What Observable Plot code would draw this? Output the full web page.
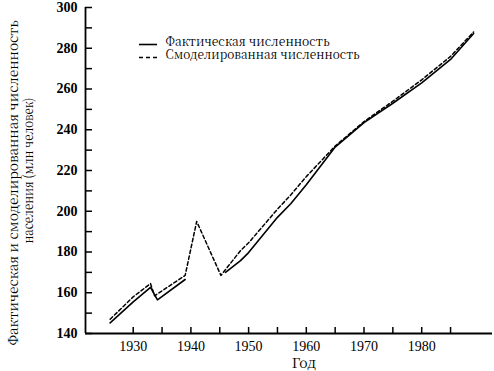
<!DOCTYPE html>
<html><head><meta charset="utf-8">
<script src="https://cdn.jsdelivr.net/npm/d3@7"></script>
<script src="https://cdn.jsdelivr.net/npm/@observablehq/plot@0.6"></script>
<style>
body{margin:0;background:#fff;}
#wrap{position:relative;width:494px;height:371px;color:#000;}
#legend{position:absolute;left:0;top:0;}
#wrap g[aria-label="y-axis tick label"], #wrap g[aria-label="y-axis tick label"] text{font-weight:bold;}
</style></head><body><div id="wrap"></div>
<script>
// Actual (solid) population, USSR, millions; NaN = gap in the record
const actualYears  = [1926, 1930, 1933, 1934.2, 1939, 1942, 1946, 1948.6, 1950, 1955, 1957.3, 1960, 1965, 1970, 1975, 1980, 1985, 1989];
const actualValues = [145.2, 155.5, 162.6, 156.5, 166.5, NaN, 170, 175.8, 179.7, 197, 203.7, 213, 231.5, 243.5, 253, 263, 274.5, 287.2];
// Modelled (dashed) population
const modelYears  = [1926, 1930, 1933, 1933.7, 1939, 1941, 1945.2, 1948.6, 1950, 1955, 1957.3, 1960, 1965, 1970, 1975, 1980, 1985, 1989];
const modelValues = [147, 158, 164.5, 158.5, 168.5, 195, 168.5, 180.7, 184.5, 201, 208, 217, 232, 244, 254, 264.5, 276, 288];

const seriesNames = ["Фактическая численность", "Смоделированная численность"];
const xLabel = "Год";
const yLabelLines = ["Фактическая и смоделированная численность", "населения (млн человек)"];
const xTicksMajor = [1930, 1940, 1950, 1960, 1970, 1980];
const xTicksMinor = [1930, 1935, 1940, 1945, 1950, 1955, 1960, 1965, 1970, 1975, 1980, 1985];
const yTicksMajor = [140, 160, 180, 200, 220, 240, 260, 280, 300];
const yTicksMinor = d3.range(140, 301, 10);

const actual = actualYears.map((x, i) => ({x, y: actualValues[i]}));
const model = modelYears.map((x, i) => ({x, y: modelValues[i]}));

const xDomain = [1921.73, 1992.27];
const yDomain = [140, 300];
const DIGITS = "'Liberation Serif'";
const CYR = "'Noto Serif CJK SC'";

const chart = Plot.plot({
  width: 494, height: 371,
  marginLeft: 85, marginRight: 2, marginTop: 7, marginBottom: 38,
  style: {fontFamily: DIGITS, fontSize: "14px", color: "#000", background: "transparent"},
  x: {domain: xDomain},
  y: {domain: yDomain},
  marks: [
    Plot.axisX(xTicksMinor, {tickSize: -6, tickFormat: () => "", label: null, strokeWidth: 1.5}),
    Plot.axisX(xTicksMajor, {tickSize: 0, tickPadding: 8, tickFormat: d => String(d), label: null, fontSize: 14}),
    Plot.axisY(yTicksMinor, {tickSize: -7, tickFormat: () => "", label: null, strokeWidth: 1.5}),
    Plot.axisY(yTicksMajor, {tickSize: 0, tickPadding: 8, tickFormat: d => String(d), label: null, fontSize: 14, fontWeight: "bold"}),
    Plot.ruleY([yDomain[0]], {strokeWidth: 1.8}),
    Plot.ruleX([xDomain[0]], {strokeWidth: 1.8}),
    Plot.line(model, {x: "x", y: "y", stroke: "#000", strokeWidth: 1.5, strokeDasharray: "3.5,2.5"}),
    Plot.line(actual, {x: "x", y: "y", stroke: "#000", strokeWidth: 1.6}),
    Plot.text([xLabel], {frameAnchor: "bottom", textAnchor: "middle", lineAnchor: "middle", dx: 15, dy: 30, fontSize: 14, fontFamily: CYR, text: d => d}),
    Plot.text([yLabelLines[0]], {frameAnchor: "left", textAnchor: "middle", lineAnchor: "middle", rotate: -90, dx: -72, dy: 12.5, fontSize: 13.5, fontFamily: CYR, text: d => d}),
    Plot.text([yLabelLines[1]], {frameAnchor: "left", textAnchor: "middle", lineAnchor: "middle", rotate: -90, dx: -57, dy: 0, fontSize: 13.5, fontFamily: CYR, text: d => d})
  ]
});
const wrap = document.getElementById("wrap");
wrap.appendChild(chart);

// y-axis title lines stretched to the reference lengths
const targetLen = {[yLabelLines[0]]: 325, [yLabelLines[1]]: 146};
d3.select(chart).selectAll("text").each(function() {
  const L = targetLen[this.textContent];
  if (L) {
    this.setAttribute("text-anchor", "middle");
    this.setAttribute("textLength", L);
    this.setAttribute("lengthAdjust", "spacingAndGlyphs");
  }
});

// legend overlay
const leg = d3.select(wrap).append("svg").attr("id", "legend").attr("width", 494).attr("height", 371);
const legRows = [{y: 44.5, dash: null, len: 164}, {y: 57.5, dash: "4,3", len: 194}];
seriesNames.forEach((name, i) => {
  const r = legRows[i];
  leg.append("line").attr("x1", 139).attr("x2", 157).attr("y1", r.y).attr("y2", r.y)
    .attr("stroke", "#000").attr("stroke-width", 1.6).attr("stroke-dasharray", r.dash);
  leg.append("text").attr("x", 165.5).attr("y", r.y + 1)
    .attr("font-family", "Noto Serif CJK SC").attr("font-size", 12.5)
    .attr("textLength", r.len).attr("lengthAdjust", "spacingAndGlyphs")
    .text(name);
});
</script>
</body></html>
